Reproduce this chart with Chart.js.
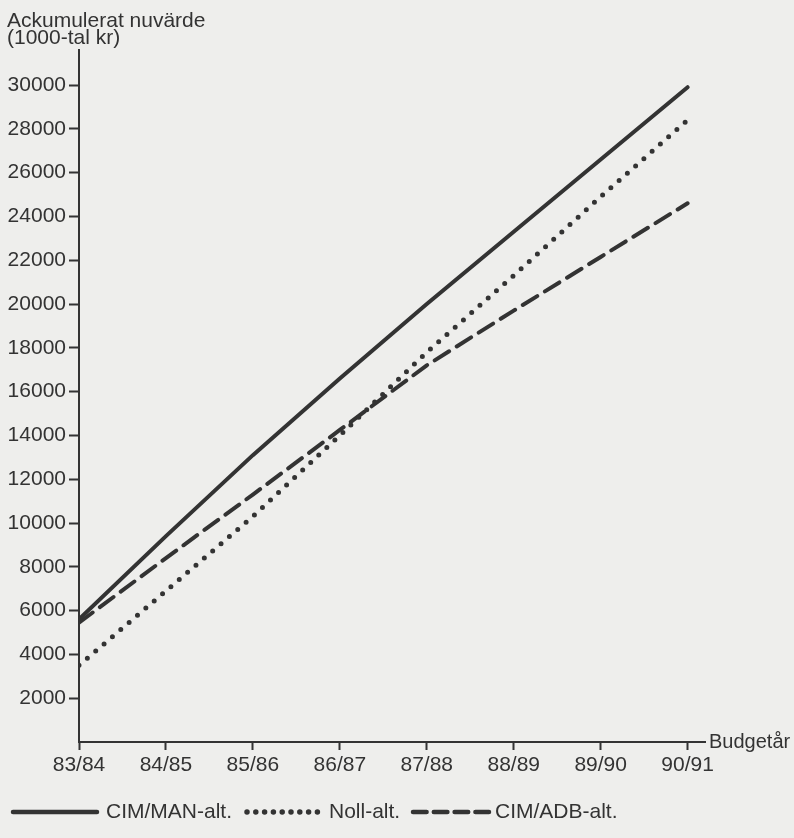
<!DOCTYPE html>
<html>
<head>
<meta charset="utf-8">
<script src="https://cdn.jsdelivr.net/npm/chart.js@4/dist/chart.umd.min.js"></script>
<style>
  body { margin: 0; background: #eeeeec; }
  canvas { display: block; }
</style>
</head>
<body>
<canvas id="nuvardeChart" width="794" height="838"></canvas>
<script>
const budgetYears = ['83/84', '84/85', '85/86', '86/87', '87/88', '88/89', '89/90', '90/91'];
const cimManAlt = [5600, 9400, 13100, 16600, 20000, 23300, 26600, 29900];
const nollAlt = [3500, 6900, 10300, 14000, 17800, 21300, 24900, 28400];
const cimAdbAlt = [5450, 8400, 11300, 14250, 17200, 19700, 22150, 24600];
const yTicks = [2000, 4000, 6000, 8000, 10000, 12000, 14000, 16000, 18000, 20000, 22000, 24000, 26000, 28000, 30000];

const ink = '#333333';
const font = 'Liberation Sans, Arial, sans-serif';

function points(values) {
    return values.map((v, i) => ({ x: i, y: v }));
}

const paperPlugin = {
    id: 'paper',
    beforeDraw(chart) {
        const c = chart.ctx;
        c.save();
        c.fillStyle = '#eeeeec';
        c.fillRect(0, 0, chart.width, chart.height);
        c.restore();
    }
};

// legend slots: where each key line starts, how long it is, gap before the label
const legendSlots = [
    { start: 13, len: 84, gap: 9 },
    { start: 247, len: 76, gap: 6 },
    { start: 413, len: 77, gap: 5 }
];

const textPlugin = {
    id: 'texts',
    afterDraw(chart) {
        const c = chart.ctx;
        const area = chart.chartArea;
        c.save();
        c.fillStyle = ink;
        c.font = '21px ' + font;
        c.textBaseline = 'alphabetic';
        c.fillText('Ackumulerat nuvärde', 7, 27);
        c.fillText('(1000-tal kr)', 7, 44);

        // x axis name at the right end of the axis
        c.font = '20px ' + font;
        c.textBaseline = 'middle';
        c.fillText('Budgetår', area.right + 4, area.bottom);

        // legend along the bottom
        c.font = '21px ' + font;
        const y = 812;
        chart.data.datasets.forEach((ds, i) => {
            const s = legendSlots[i];
            c.beginPath();
            c.strokeStyle = ds.borderColor;
            c.lineWidth = ds.borderWidth + 0.5;
            c.lineCap = ds.borderCapStyle || 'butt';
            c.setLineDash(ds.borderDash ? ds.borderDash.map(d => d * 0.8) : []);
            c.moveTo(s.start, y);
            c.lineTo(s.start + s.len, y);
            c.stroke();
            c.setLineDash([]);
            c.fillText(ds.label, s.start + s.len + s.gap, y);
        });
        c.restore();
    }
};

const ctx = document.getElementById('nuvardeChart').getContext('2d');

const chart = new Chart(ctx, {
    type: 'line',
    data: {
        datasets: [{
            label: 'CIM/MAN-alt.',
            data: points(cimManAlt),
            borderColor: ink,
            borderWidth: 4,
            borderCapStyle: 'round'
        }, {
            label: 'Noll-alt.',
            data: points(nollAlt),
            borderColor: ink,
            borderWidth: 5,
            borderDash: [0, 11],
            borderCapStyle: 'round'
        }, {
            label: 'CIM/ADB-alt.',
            data: points(cimAdbAlt),
            borderColor: ink,
            borderWidth: 4,
            borderDash: [17, 9],
            borderCapStyle: 'round'
        }]
    },
    options: {
        responsive: false,
        animation: false,
        layout: { padding: { left: 0, top: 50, right: 89, bottom: 0 } },
        elements: {
            point: { radius: 0 },
            line: { tension: 0, borderJoinStyle: 'round', fill: false }
        },
        plugins: {
            legend: { display: false },
            tooltip: { enabled: false }
        },
        scales: {
            x: {
                type: 'linear',
                min: 0,
                max: 7.2,
                afterBuildTicks(scale) {
                    scale.ticks = budgetYears.map((_, i) => ({ value: i }));
                },
                afterFit(scale) { scale.height = 96; },
                border: { display: true, color: ink, width: 2 },
                grid: { drawOnChartArea: false, drawTicks: true, tickLength: 8, tickColor: ink, tickWidth: 2 },
                ticks: {
                    color: ink,
                    font: { family: font, size: 21 },
                    padding: 3,
                    maxRotation: 0,
                    callback: v => budgetYears[v]
                }
            },
            y: {
                min: 0,
                max: 31600,
                afterBuildTicks(scale) {
                    scale.ticks = yTicks.map(v => ({ value: v }));
                },
                afterFit(scale) { scale.width = 79; },
                border: { display: true, color: ink, width: 2 },
                grid: { drawOnChartArea: false, drawTicks: true, tickLength: 10, tickColor: ink, tickWidth: 2 },
                ticks: {
                    color: ink,
                    font: { family: font, size: 21 },
                    padding: 3,
                    callback: v => String(v)
                }
            }
        }
    },
    plugins: [paperPlugin, textPlugin]
});
</script>
</body>
</html>
